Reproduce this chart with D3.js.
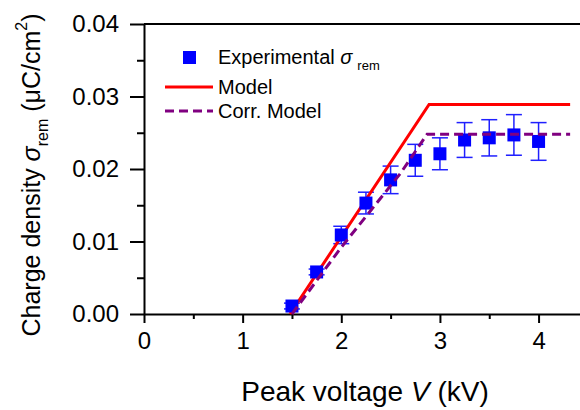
<!DOCTYPE html>
<html lang="en">
<head>
  <meta charset="UTF-8">
  <title>Remnant charge density vs peak voltage</title>
  <script src="https://d3js.org/d3.v7.min.js"></script>
  <style>
    body {
      margin: 0;
      padding: 0;
      background: white;
      font-family: 'Liberation Sans', Arial, sans-serif;
    }
    svg {
      display: block;
    }
    .axis path, .axis line {
      stroke: black;
      stroke-width: 2px;
    }
    .axis text {
      font-family: 'Liberation Sans', Arial, sans-serif;
      font-size: 24px;
      fill: black;
    }
  </style>
</head>
<body>
  <div id="chart"></div>

  <script>
    // experimental points (peak voltage in kV, charge density in uC/cm2)
    const voltage = [1.5, 1.75, 2.0, 2.25, 2.5, 2.75, 3.0, 3.25, 3.5, 3.75, 4.0];
    const sigmaExp = [0.0011, 0.0058, 0.0109, 0.0153, 0.0185, 0.0212, 0.0221, 0.0240, 0.0243, 0.0247, 0.0238];
    const sigmaErr = [0.0004, 0.0004, 0.0012, 0.0015, 0.0019, 0.0022, 0.0022, 0.0024, 0.0025, 0.0028, 0.0026];

    // model curves
    const modelV = [1.48, 2.89, 4.32];
    const modelSigma = [0, 0.0289, 0.0289];
    const corrV = [1.5, 2.0, 2.6, 2.87, 4.32];
    const corrSigma = [0, 0.0092, 0.0194, 0.0248, 0.0248];

    // axes
    const xTicks = [0, 1, 2, 3, 4];
    const xMinor = [0.5, 1.5, 2.5, 3.5];
    const yTicks = [0, 0.01, 0.02, 0.03, 0.04];
    const yMinor = [0.005, 0.015, 0.025, 0.035];

    const width = 580, height = 410;
    const svg = d3.select("#chart").append("svg").attr("width", width).attr("height", height);

    const x = d3.scaleLinear().domain([0, 4.42]).range([144, 580]);
    const y = d3.scaleLinear().domain([0, 0.04]).range([314, 24]);

    // minor ticks first, then major axes on top
    svg.append("g").attr("class", "axis").attr("transform", "translate(0,314)")
      .call(d3.axisBottom(x).tickValues(xMinor).tickSize(5).tickFormat(""))
      .select(".domain").remove();
    svg.append("g").attr("class", "axis").attr("transform", "translate(144,0)")
      .call(d3.axisLeft(y).tickValues(yMinor).tickSize(7).tickFormat(""))
      .select(".domain").remove();

    svg.append("g").attr("class", "axis").attr("transform", "translate(0,314)")
      .call(d3.axisBottom(x).tickValues(xTicks).tickSize(9).tickSizeOuter(0).tickPadding(9).tickFormat(d3.format("d")));
    svg.append("g").attr("class", "axis").attr("transform", "translate(144,0)")
      .call(d3.axisLeft(y).tickValues(yTicks).tickSize(14).tickSizeOuter(0).tickPadding(11).tickFormat(d3.format(".2f")));

    // top frame line
    svg.append("line")
      .attr("x1", x(0)).attr("x2", x(4.42))
      .attr("y1", y(0.04)).attr("y2", y(0.04))
      .attr("stroke", "black").attr("stroke-width", 2);

    const pts = voltage.map((v, i) => ({v: v, s: sigmaExp[i], e: sigmaErr[i]}));

    // error bars
    const err = svg.append("g").attr("stroke", "#2020ff").attr("stroke-width", 1.5);
    pts.forEach(d => {
      const cx = x(d.v);
      err.append("line").attr("x1", cx).attr("x2", cx).attr("y1", y(d.s - d.e)).attr("y2", y(d.s + d.e));
      err.append("line").attr("x1", cx - 8).attr("x2", cx + 8).attr("y1", y(d.s - d.e)).attr("y2", y(d.s - d.e));
      err.append("line").attr("x1", cx - 8).attr("x2", cx + 8).attr("y1", y(d.s + d.e)).attr("y2", y(d.s + d.e));
    });

    const line = d3.line().x(d => x(d[0])).y(d => y(d[1]));

    svg.append("path")
      .datum(modelV.map((v, i) => [v, modelSigma[i]]))
      .attr("fill", "none")
      .attr("stroke", "#ff0000")
      .attr("stroke-width", 3)
      .attr("d", line);

    svg.selectAll("rect.pt")
      .data(pts)
      .enter().append("rect")
      .attr("class", "pt")
      .attr("x", d => x(d.v) - 6.5)
      .attr("y", d => y(d.s) - 6.5)
      .attr("width", 13)
      .attr("height", 13)
      .attr("fill", "#0000ff");

    svg.append("path")
      .datum(corrV.map((v, i) => [v, corrSigma[i]]))
      .attr("fill", "none")
      .attr("stroke", "#800080")
      .attr("stroke-width", 3)
      .attr("stroke-dasharray", "9,5")
      .attr("d", line);

    // legend
    const legend = svg.append("g").attr("font-size", 20);
    legend.append("rect").attr("x", 183).attr("y", 51).attr("width", 13).attr("height", 13).attr("fill", "#0000ff");
    const t1 = legend.append("text").attr("x", 218).attr("y", 64);
    t1.append("tspan").text("Experimental ");
    t1.append("tspan").attr("font-style", "italic").text("σ");
    t1.append("tspan").attr("font-size", 13).attr("dx", 5).attr("dy", 6).text("rem");

    legend.append("line").attr("x1", 165).attr("x2", 213).attr("y1", 87).attr("y2", 87)
      .attr("stroke", "#ff0000").attr("stroke-width", 3);
    legend.append("text").attr("x", 218).attr("y", 94).text("Model");

    legend.append("line").attr("x1", 165).attr("x2", 213).attr("y1", 111).attr("y2", 111)
      .attr("stroke", "#800080").attr("stroke-width", 3).attr("stroke-dasharray", "9,5");
    legend.append("text").attr("x", 218).attr("y", 118).text("Corr. Model");

    // axis titles
    const xt = svg.append("text").attr("x", 365).attr("y", 401)
      .attr("text-anchor", "middle").attr("font-size", 28);
    xt.append("tspan").text("Peak voltage ");
    xt.append("tspan").attr("font-style", "italic").text("V");
    xt.append("tspan").text(" (kV)");

    const yt = svg.append("text").attr("transform", "rotate(-90)")
      .attr("x", -175).attr("y", 40)
      .attr("text-anchor", "middle").attr("font-size", 25);
    yt.append("tspan").text("Charge density ");
    yt.append("tspan").attr("font-style", "italic").text("σ");
    yt.append("tspan").attr("font-size", 16).attr("dy", 8).text("rem");
    yt.append("tspan").attr("dy", -8).text(" (μC/cm");
    yt.append("tspan").attr("font-size", 16).attr("dy", -13).text("2");
    yt.append("tspan").attr("dy", 13).text(")");
  </script>
</body>
</html>
